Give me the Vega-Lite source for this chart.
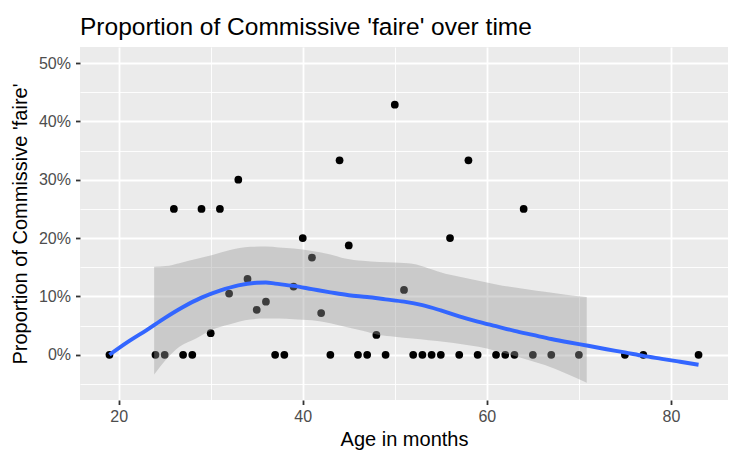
{
  "$schema": "https://vega.github.io/schema/vega-lite/v6.json",
  "width": 648,
  "height": 353,
  "autosize": {"type": "none"},
  "padding": {"left": 80, "top": 47, "right": 7, "bottom": 56},
  "background": "white",
  "title": {
    "text": "Proportion of Commissive 'faire' over time",
    "anchor": "start",
    "frame": "group",
    "font": "Liberation Sans",
    "fontSize": 24.5,
    "fontWeight": "normal",
    "color": "black",
    "baseline": "alphabetic",
    "offset": -12
  },
  "config": {
    "view": {"fill": "#EBEBEB", "stroke": null},
    "font": "Liberation Sans",
    "axis": {
      "domain": false,
      "gridColor": "white",
      "labelColor": "#4D4D4D",
      "labelFont": "Liberation Sans",
      "labelFontSize": 16,
      "titleFont": "Liberation Sans",
      "titleFontSize": 20,
      "titleFontWeight": "normal",
      "titleColor": "black",
      "tickColor": "#333333",
      "tickSize": 4.5,
      "tickWidth": 1.8,
      "labelOverlap": false,
      "labelFlush": false,
      "labelBound": false
    }
  },
  "datasets": {
    "points": [
      {"age": 19, "pct": 0}, {"age": 24, "pct": 0}, {"age": 25, "pct": 0},
      {"age": 26, "pct": 25}, {"age": 27, "pct": 0}, {"age": 28, "pct": 0},
      {"age": 29, "pct": 25}, {"age": 30, "pct": 3.7}, {"age": 31, "pct": 25},
      {"age": 32, "pct": 10.5}, {"age": 33, "pct": 30}, {"age": 34, "pct": 13},
      {"age": 35, "pct": 7.7}, {"age": 36, "pct": 9.1}, {"age": 37, "pct": 0},
      {"age": 38, "pct": 0}, {"age": 39, "pct": 11.7}, {"age": 40, "pct": 20},
      {"age": 41, "pct": 16.67}, {"age": 42, "pct": 7.14}, {"age": 43, "pct": 0},
      {"age": 44, "pct": 33.33}, {"age": 45, "pct": 18.75}, {"age": 46, "pct": 0},
      {"age": 47, "pct": 0}, {"age": 48, "pct": 3.4}, {"age": 49, "pct": 0},
      {"age": 50, "pct": 42.86}, {"age": 51, "pct": 11.11}, {"age": 52, "pct": 0},
      {"age": 53, "pct": 0}, {"age": 54, "pct": 0}, {"age": 55, "pct": 0},
      {"age": 56, "pct": 20}, {"age": 57, "pct": 0}, {"age": 58, "pct": 33.33},
      {"age": 59, "pct": 0}, {"age": 61, "pct": 0}, {"age": 62, "pct": 0},
      {"age": 63, "pct": 0}, {"age": 64, "pct": 25}, {"age": 65, "pct": 0},
      {"age": 67, "pct": 0}, {"age": 70, "pct": 0}, {"age": 75, "pct": 0},
      {"age": 77, "pct": 0}, {"age": 83, "pct": 0}
    ],
    "ribbon": [
      {"age": 23.86, "pct": -3.4, "pct_hi": 15.1},
      {"age": 25.1, "pct": -0.9, "pct_hi": 15.2},
      {"age": 26.6, "pct": 1.37, "pct_hi": 15.7},
      {"age": 28.4, "pct": 2.8, "pct_hi": 16.4},
      {"age": 30.2, "pct": 4.35, "pct_hi": 17.1},
      {"age": 32.0, "pct": 5.2, "pct_hi": 17.9},
      {"age": 34.3, "pct": 6.06, "pct_hi": 18.5},
      {"age": 36.0, "pct": 6.2, "pct_hi": 18.55},
      {"age": 37.4, "pct": 6.2, "pct_hi": 18.4},
      {"age": 39.0, "pct": 6.1, "pct_hi": 18.2},
      {"age": 41.0, "pct": 5.9, "pct_hi": 17.8},
      {"age": 43.0, "pct": 5.4, "pct_hi": 17.2},
      {"age": 44.6, "pct": 4.8, "pct_hi": 16.5},
      {"age": 46.5, "pct": 4.1, "pct_hi": 16.1},
      {"age": 48.3, "pct": 3.4, "pct_hi": 15.9},
      {"age": 50.0, "pct": 3.1, "pct_hi": 15.8},
      {"age": 51.9, "pct": 2.8, "pct_hi": 15.6},
      {"age": 53.7, "pct": 2.5, "pct_hi": 14.8},
      {"age": 55.5, "pct": 2.2, "pct_hi": 13.9},
      {"age": 57.3, "pct": 1.8, "pct_hi": 13.3},
      {"age": 59.1, "pct": 1.37, "pct_hi": 12.7},
      {"age": 60.9, "pct": 0.7, "pct_hi": 12.1},
      {"age": 62.7, "pct": -0.05, "pct_hi": 11.6},
      {"age": 64.5, "pct": -0.9, "pct_hi": 11.2},
      {"age": 66.3, "pct": -1.76, "pct_hi": 10.8},
      {"age": 68.6, "pct": -3.2, "pct_hi": 10.3},
      {"age": 70.85, "pct": -4.8, "pct_hi": 9.9}
    ],
    "fit": [
      {"age": 19, "pct": 0.0}, {"age": 21, "pct": 2.2}, {"age": 23, "pct": 4.2},
      {"age": 25, "pct": 6.3}, {"age": 27, "pct": 8.2}, {"age": 29, "pct": 9.8},
      {"age": 31, "pct": 11.0}, {"age": 33, "pct": 11.9}, {"age": 35, "pct": 12.35},
      {"age": 36, "pct": 12.4}, {"age": 37, "pct": 12.2}, {"age": 39, "pct": 11.8},
      {"age": 41, "pct": 11.25}, {"age": 43, "pct": 10.7}, {"age": 45, "pct": 10.2},
      {"age": 47, "pct": 9.9}, {"age": 49, "pct": 9.5}, {"age": 51, "pct": 9.1},
      {"age": 53, "pct": 8.5}, {"age": 55, "pct": 7.6}, {"age": 57, "pct": 6.6},
      {"age": 59, "pct": 5.7}, {"age": 61, "pct": 4.9}, {"age": 63, "pct": 4.1},
      {"age": 65, "pct": 3.4}, {"age": 67, "pct": 2.7}, {"age": 69, "pct": 2.1},
      {"age": 71, "pct": 1.55}, {"age": 73, "pct": 0.95}, {"age": 75, "pct": 0.4},
      {"age": 77, "pct": -0.2}, {"age": 79, "pct": -0.7}, {"age": 81, "pct": -1.2},
      {"age": 83, "pct": -1.7}
    ]
  },
  "encoding": {
    "x": {
      "field": "age",
      "type": "quantitative",
      "scale": {"domain": [15.8, 86.2], "nice": false, "zero": false},
      "axis": {
        "title": "Age in months",
        "values": [20, 30, 40, 50, 60, 70, 80],
        "labelExpr": "datum.value % 20 == 0 ? datum.label : ''",
        "gridWidth": {"condition": {"test": "datum.value % 20 == 0", "value": 1.8}, "value": 0.9},
        "tickOpacity": {"condition": {"test": "datum.value % 20 == 0", "value": 1}, "value": 0},
        "labelPadding": 4,
        "titlePadding": 5
      }
    },
    "y": {
      "field": "pct",
      "type": "quantitative",
      "scale": {"domain": [-7.75, 52.75], "nice": false, "zero": false},
      "axis": {
        "title": "Proportion of Commissive 'faire'",
        "values": [-5, 0, 5, 10, 15, 20, 25, 30, 35, 40, 45, 50],
        "labelExpr": "datum.value % 10 == 0 ? datum.value + '%' : ''",
        "gridWidth": {"condition": {"test": "datum.value % 10 == 0", "value": 1.8}, "value": 0.9},
        "tickOpacity": {"condition": {"test": "datum.value % 10 == 0", "value": 1}, "value": 0},
        "labelPadding": 5,
        "titlePadding": 8
      }
    }
  },
  "layer": [
    {
      "data": {"name": "points"},
      "mark": {"type": "circle", "color": "black", "opacity": 1, "size": 60}
    },
    {
      "data": {"name": "ribbon"},
      "mark": {"type": "area", "color": "#999999", "opacity": 0.4, "interpolate": "monotone"},
      "encoding": {
        "y2": {"field": "pct_hi"}
      }
    },
    {
      "data": {"name": "fit"},
      "mark": {"type": "line", "color": "#3366FF", "strokeWidth": 3.9, "interpolate": "monotone"}
    }
  ]
}
